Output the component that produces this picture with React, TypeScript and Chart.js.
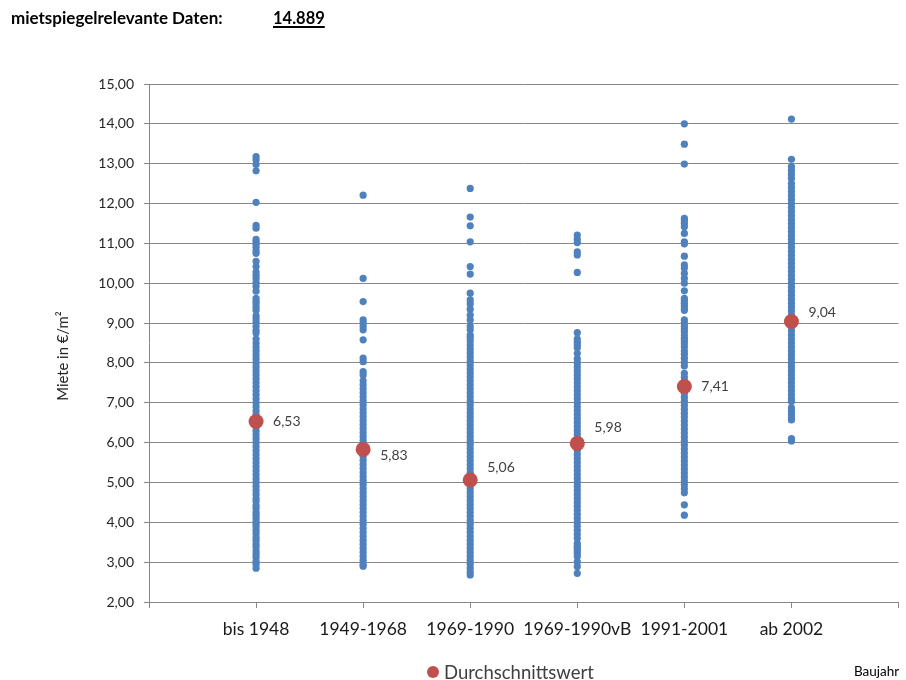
import React, { useEffect, useRef } from "react";
import { Chart, registerables } from "chart.js";

Chart.register(...registerables);

const categories = ["bis 1948", "1949-1968", "1969-1990", "1969-1990vB", "1991-2001", "ab 2002"];

const bis1948Values = [
  13.18, 13.1, 12.98, 12.82, 12.03, 11.45, 11.38, 11.1, 11.04, 10.98, 10.9, 10.82, 10.75, 10.55, 10.42,
  10.28, 10.2, 10.12, 10.02, 9.92, 9.8, 9.62, 9.55, 9.48, 9.4, 9.32, 9.18, 9.1, 9.02, 8.92, 8.82, 8.75,
  8.6, 8.5,
  8.4, 8.3, 8.2, 8.1, 8.0, 7.9, 7.8, 7.7, 7.6, 7.5, 7.4, 7.3, 7.2, 7.1, 7.0, 6.9, 6.8, 6.7, 6.6, 6.5,
  6.4, 6.3, 6.2, 6.1, 6.0, 5.9, 5.8, 5.7, 5.6, 5.5, 5.4, 5.3, 5.2, 5.1, 5.0, 4.9, 4.8, 4.7,
  4.6, 4.52, 4.42, 4.35, 4.25, 4.18, 4.1, 4.02, 3.95, 3.88, 3.8, 3.72, 3.62, 3.55, 3.45, 3.38, 3.28,
  3.2, 3.12, 3.02, 2.95, 2.85,
];

const b1949Values = [
  12.21, 10.12, 9.54, 9.08, 9.0, 8.92, 8.83, 8.58, 8.12, 8.03, 7.78, 7.7,
  7.55, 7.45, 7.35, 7.25, 7.15, 7.05, 6.95, 6.85, 6.75, 6.65, 6.55, 6.45, 6.35, 6.25, 6.15, 6.05,
  5.95, 5.85, 5.75, 5.65, 5.55, 5.45, 5.35, 5.25, 5.15, 5.05, 4.95, 4.85, 4.75, 4.65, 4.55, 4.45,
  4.35, 4.25, 4.15, 4.05, 3.95, 3.85, 3.75, 3.65, 3.55, 3.45, 3.35, 3.25, 3.15, 3.05, 2.95, 2.9,
];

const b1969Values = [
  12.38, 11.66, 11.44, 11.04, 10.42, 10.23, 9.75, 9.58, 9.48, 9.35, 9.2, 9.08, 8.92, 8.83, 8.7, 8.63,
  8.55, 8.45, 8.35, 8.25, 8.15, 8.05, 7.95, 7.85, 7.75, 7.65, 7.55, 7.45, 7.35, 7.25, 7.15, 7.05,
  6.95, 6.85, 6.75, 6.65, 6.55, 6.45, 6.35, 6.25, 6.15, 6.05, 5.95, 5.85, 5.75, 5.65, 5.55, 5.45,
  5.35, 5.25, 5.15, 5.05, 4.95, 4.85, 4.75, 4.65, 4.55, 4.45, 4.35, 4.25, 4.15, 4.05, 3.95, 3.85,
  3.75, 3.65, 3.55, 3.45, 3.35, 3.25, 3.15, 3.05, 2.95, 2.85, 2.75, 2.68,
];

const b1969vBValues = [
  11.21, 11.1, 11.02, 10.79, 10.71, 10.27, 8.76, 8.6, 8.52, 8.45, 8.38, 8.24,
  8.1, 8.0, 7.9, 7.8, 7.7, 7.6, 7.5, 7.4, 7.3, 7.2, 7.1, 7.0, 6.9, 6.8, 6.7, 6.6, 6.5, 6.4, 6.3,
  6.2, 6.1, 6.0, 5.9, 5.8, 5.7, 5.6, 5.5, 5.4, 5.3, 5.2, 5.1, 5.0, 4.9, 4.8, 4.7, 4.6, 4.5, 4.4,
  4.3, 4.2, 4.1, 4.0, 3.9, 3.8, 3.7,
  3.6, 3.47, 3.4, 3.35, 3.28, 3.22, 3.14, 3.01, 2.89, 2.72,
];

const b1991Values = [
  14.0, 13.49, 12.99, 11.63, 11.57, 11.5, 11.42, 11.25, 11.04, 10.99, 10.68, 10.46, 10.38, 10.25,
  10.12, 10.0, 9.81, 9.62, 9.56, 9.5, 9.44, 9.38, 9.32, 9.08, 9.0, 8.92, 8.85, 8.78, 8.7, 8.62,
  8.55, 8.48, 8.4, 8.3, 8.22, 8.12, 8.02, 7.92,
  7.74, 7.64, 7.54, 7.44, 7.34, 7.24, 7.14, 7.04, 6.94, 6.84, 6.74, 6.64, 6.54, 6.44, 6.34, 6.24,
  6.14, 6.04, 5.94, 5.84, 5.74, 5.64, 5.54, 5.44, 5.34, 5.24, 5.14, 5.04, 4.94, 4.84, 4.74,
  4.44, 4.18,
];

const ab2002Values = [
  14.12, 13.11,
  12.93, 12.83, 12.73, 12.63, 12.5, 12.4, 12.3, 12.2, 12.1, 12.0, 11.9, 11.8, 11.7, 11.6, 11.5,
  11.4, 11.3, 11.2, 11.1, 11.0, 10.9, 10.8, 10.7, 10.6, 10.5, 10.4, 10.3, 10.2, 10.1, 10.0, 9.9,
  9.8, 9.7, 9.6, 9.5, 9.4, 9.3, 9.2, 9.1, 9.0, 8.9, 8.8, 8.7, 8.6, 8.5, 8.4, 8.3, 8.2, 8.1, 8.0,
  7.9, 7.8, 7.7, 7.6, 7.5, 7.4, 7.3, 7.2, 7.1, 7.03,
  6.87, 6.78, 6.7, 6.62, 6.57, 6.1, 6.04,
];

const valueGroups = [bis1948Values, b1949Values, b1969Values, b1969vBValues, b1991Values, ab2002Values];

const meanValues = [6.53, 5.83, 5.06, 5.98, 7.41, 9.04];

const yTickMin = 2;
const yTickMax = 15;

const totalCount = "14.889";

const labelDy = [0, 6, -13, -16, 0, -9];

const fmt = (v: number) => v.toFixed(2).replace(".", ",");

const FONT = "Lato, 'Open Sans', sans-serif";

export default function App() {
  const canvasRef = useRef<HTMLCanvasElement | null>(null);

  useEffect(() => {
    if (!canvasRef.current) return;
    const scatterData: { x: number; y: number }[] = [];
    valueGroups.forEach((arr, i) => arr.forEach((v) => scatterData.push({ x: i + 1, y: v })));
    const meanData = meanValues.map((v, i) => ({ x: i + 1, y: v }));

    const labelPlugin = {
      id: "meanLabels",
      afterDatasetsDraw(chart: any) {
        const meta = chart.getDatasetMeta(0);
        const ctx = chart.ctx;
        ctx.save();
        ctx.font = `14px ${FONT}`;
        ctx.fillStyle = "#404040";
        ctx.textAlign = "left";
        ctx.textBaseline = "middle";
        meta.data.forEach((el: any, i: number) => {
          ctx.fillText(fmt(meanValues[i]), el.x + 17, el.y + labelDy[i]);
        });
        ctx.restore();
      },
    };

    const chart = new Chart(canvasRef.current, {
      type: "scatter",
      data: {
        datasets: [
          {
            label: "Durchschnittswert",
            data: meanData,
            backgroundColor: "#C0504D",
            borderColor: "#C0504D",
            pointRadius: 7.5,
            pointBorderWidth: 0,
            order: 0,
          },
          {
            label: "Daten",
            data: scatterData,
            backgroundColor: "#4F81BD",
            borderColor: "#4F81BD",
            pointRadius: 3.6,
            pointBorderWidth: 0,
            order: 1,
          },
        ],
      },
      options: {
        animation: false,
        responsive: true,
        maintainAspectRatio: false,
        layout: { padding: { left: 0, right: 5, top: 84, bottom: 0 } },
        plugins: { legend: { display: false }, tooltip: { enabled: false } },
        scales: {
          x: {
            type: "linear",
            min: 0,
            max: 7,
            afterFit: (s: any) => {
              s.height = 78;
              s.paddingRight = 0;
              s.paddingLeft = 0;
            },
            afterBuildTicks: (s: any) => {
              s.ticks = [0, 1, 2, 3, 4, 5, 6, 7].map((v) => ({ value: v }));
            },
            ticks: {
              stepSize: 1,
              autoSkip: false,
              maxRotation: 0,
              padding: 11,
              color: "#1a1a1a",
              font: { family: FONT, size: 17.5 },
              callback: (v: any) => categories[Number(v) - 1] ?? "",
            },
            grid: { drawOnChartArea: false, drawTicks: true, tickLength: 6, color: "#878787", lineWidth: 1 },
            border: { display: true, color: "#878787", width: 1 },
          },
          y: {
            min: yTickMin,
            max: yTickMax,
            afterFit: (s: any) => {
              s.width = 149;
            },
            ticks: {
              stepSize: 1,
              padding: 10,
              color: "#262626",
              font: { family: FONT, size: 14 },
              callback: (v: any) => fmt(Number(v)),
            },
            grid: { color: "#878787", lineWidth: 1, tickLength: 5 },
            border: { display: true, color: "#878787", width: 1 },
          },
        },
      },
      plugins: [labelPlugin],
    });
    return () => chart.destroy();
  }, []);

  return (
    <div style={{ position: "fixed", left: 0, top: 0, width: 906, height: 680, background: "#fff", fontFamily: FONT }}>
      <canvas ref={canvasRef} style={{ position: "absolute", left: 0, top: 0, width: 906, height: 680 }} />
      <div style={{ position: "absolute", left: 11, top: 8, height: 20, lineHeight: "20px", fontSize: 17, fontWeight: 700, color: "#000", whiteSpace: "nowrap" }}>
        mietspiegelrelevante Daten:
      </div>
      <div style={{ position: "absolute", left: 273, top: 8, height: 20, lineHeight: "20px", fontSize: 16.5, fontWeight: 700, color: "#000", textDecoration: "underline", textDecorationThickness: 2, textUnderlineOffset: 2, whiteSpace: "nowrap" }}>
        {totalCount}
      </div>
      <div style={{ position: "absolute", left: 62, top: 356, width: 0, height: 0 }}>
        <div style={{ position: "absolute", left: -60, top: -10, width: 120, height: 20, lineHeight: "20px", textAlign: "center", fontSize: 14.8, color: "#262626", transform: "rotate(-90deg)", whiteSpace: "nowrap" }}>
          Miete in €/m²
        </div>
      </div>
      <div style={{ position: "absolute", left: 427, top: 666, width: 12, height: 12, borderRadius: 6, background: "#C0504D" }} />
      <div style={{ position: "absolute", left: 444, top: 660, height: 24, lineHeight: "24px", fontSize: 18.5, color: "#404040", whiteSpace: "nowrap" }}>
        Durchschnittswert
      </div>
      <div style={{ position: "absolute", left: 854, top: 662, height: 18, lineHeight: "18px", fontSize: 13.5, color: "#000", whiteSpace: "nowrap" }}>
        Baujahr
      </div>
    </div>
  );
}
